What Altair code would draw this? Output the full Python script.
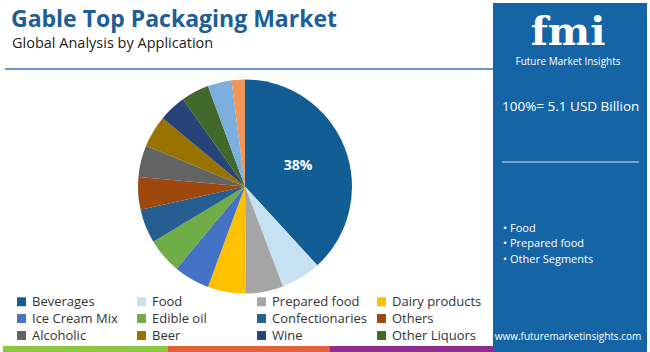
import altair as alt
import pandas as pd

categories = ["Beverages", "Food", "Prepared food", "Dairy products", "Ice Cream Mix",
              "Edible oil", "Confectionaries", "Others", "Alcoholic", "Beer", "Wine",
              "Other Liquors", "Juices", "Flavored Milk"]
shares = [38, 6.0, 5.6, 5.75, 5.4, 5.3, 5.1, 4.9, 4.75, 4.8, 4.1, 4.2, 3.6, 2.0]
colors = ["#135d95", "#c6e2f2", "#a5a5a5", "#ffc000", "#4472c4", "#70ad47", "#255e91",
          "#9e480e", "#636363", "#997300", "#264478", "#43682b", "#7cafdd", "#f1975a"]
labels = ["38%"] + [""] * 13
legend_items = categories[:12]

title_text = "Gable Top Packaging Market"
subtitle_text = "Global Analysis by Application"
total_text = "100%= 5.1 USD Billion"
bullets = ["• Food", "• Prepared food", "• Other Segments"]
url_text = "www.futuremarketinsights.com"

FONT = "Open Sans"
PANEL = "#1565a6"

df = pd.DataFrame({"category": categories, "share": shares,
                   "idx": list(range(len(categories))), "label": labels})

base = alt.Chart(df)

pie = base.mark_arc(outerRadius=107, stroke=None).encode(
    theta=alt.Theta("share:Q", stack=True),
    color=alt.Color("category:N",
                    scale=alt.Scale(domain=categories, range=colors),
                    legend=alt.Legend(values=legend_items, title=None, orient="none",
                                      direction="horizontal",
                                      legendX=15, legendY=295, columns=4, gridAlign="all",
                                      columnPadding=8, rowPadding=3, symbolType="square",
                                      symbolSize=80, symbolStrokeWidth=0,
                                      labelFont=FONT, labelFontSize=13,
                                      labelColor="#333333", labelLimit=200)),
    order=alt.Order("idx:Q"),
    x=alt.value(245), y=alt.value(186.5),
)

pie_text = base.mark_text(radius=57, font=FONT, fontSize=14, fontWeight="bold",
                          color="white").encode(
    theta=alt.Theta("share:Q", stack=True),
    order=alt.Order("idx:Q"),
    text="label:N",
    x=alt.value(245), y=alt.value(186.5),
)

one = pd.DataFrame({"a": [0]})
c1 = alt.Chart(one)

title = c1.mark_text(align="left", baseline="alphabetic", font=FONT, fontSize=23,
                     fontWeight="bold", color="#1c5e95").encode(
    x=alt.value(11), y=alt.value(27), text=alt.value(title_text))
subtitle = c1.mark_text(align="left", baseline="alphabetic", font=FONT, fontSize=14.5,
                        color="#222222").encode(
    x=alt.value(12), y=alt.value(48), text=alt.value(subtitle_text))
hline = c1.mark_rule(color="#2f77b1", strokeWidth=1.5).encode(
    x=alt.value(5), x2=alt.value(493), y=alt.value(69))

stripe_g = c1.mark_rect(color="#8dc63f").encode(
    x=alt.value(3), x2=alt.value(168), y=alt.value(346), y2=alt.value(352))
stripe_o = c1.mark_rect(color="#e4623b").encode(
    x=alt.value(168), x2=alt.value(330), y=alt.value(346), y2=alt.value(352))
stripe_p = c1.mark_rect(color="#8e2c8f").encode(
    x=alt.value(330), x2=alt.value(493), y=alt.value(346), y2=alt.value(352))

panel = c1.mark_rect(color=PANEL).encode(
    x=alt.value(493), x2=alt.value(647), y=alt.value(3), y2=alt.value(352))

logo = c1.mark_text(align="center", baseline="alphabetic", font="DejaVu Serif",
                    fontSize=40, fontWeight="bold", color="white").encode(
    x=alt.value(568), y=alt.value(45), text=alt.value("fmi"))
logo_sub = c1.mark_text(align="center", baseline="alphabetic", font=FONT, fontSize=10,
                        color="white").encode(
    x=alt.value(568), y=alt.value(65), text=alt.value("Future Market Insights"))
total = c1.mark_text(align="left", baseline="middle", font=FONT, fontSize=13.5,
                     color="white").encode(
    x=alt.value(502), y=alt.value(107), text=alt.value(total_text))
pline = c1.mark_rule(color="#d8e6f2", strokeWidth=1.2).encode(
    x=alt.value(502), x2=alt.value(639), y=alt.value(162))

bdf = pd.DataFrame({"t": bullets, "yy": [229, 244, 260]})
bul = alt.Chart(bdf).mark_text(align="left", baseline="middle", font=FONT, fontSize=11,
                               color="white").encode(
    x=alt.value(503), y=alt.Y("yy:Q", scale=None), text="t:N")
url = c1.mark_text(align="center", baseline="middle", font=FONT, fontSize=10,
                   color="white").encode(
    x=alt.value(568), y=alt.value(337), text=alt.value(url_text))

chart = alt.layer(
    panel, stripe_g, stripe_o, stripe_p, hline, title, subtitle,
    pie, pie_text, logo, logo_sub, total, pline, bul, url
).properties(
    width=650, height=352, padding=0, autosize=alt.AutoSizeParams(type="none"),
    background="white"
).configure_view(stroke=None)

chart.save("out.html", embed_options={"renderer": "svg", "actions": False})
